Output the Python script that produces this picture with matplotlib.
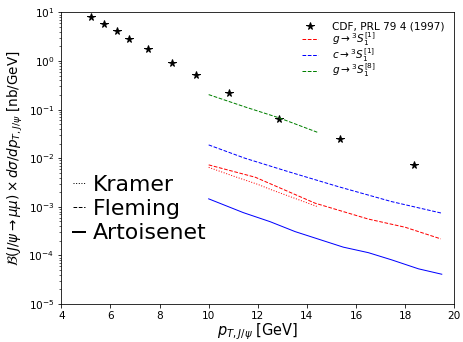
import matplotlib
matplotlib.use("Agg")
import matplotlib.pyplot as plt
from matplotlib.lines import Line2D

# CDF prompt J/psi data
cdf_pt = [5.21, 5.75, 6.27, 6.76, 7.54, 8.52, 9.47, 10.84, 12.86, 15.35, 18.37]
cdf_xs = [7.9, 5.8, 4.2, 2.9, 1.75, 0.93, 0.51, 0.217, 0.065, 0.0253, 0.0074]

# Kramer: g -> 3S1[1]
kramer_pt = [10.0, 11.0, 12.0, 12.6, 13.5, 14.45]
kramer_g1 = [6.5e-3, 4.3e-3, 2.9e-3, 2.2e-3, 1.5e-3, 1.0e-3]

# Fleming: g -> 3S1[1], c -> 3S1[1], g -> 3S1[8]
fleming_g1_pt = [10.0, 11.9, 14.33, 16.5, 18.0, 19.45]
fleming_g1 = [7.3e-3, 4.06e-3, 1.19e-3, 5.6e-4, 3.8e-4, 2.19e-4]
fleming_c1_pt = [10.0, 11.48, 13.24, 15.28, 17.45, 19.49]
fleming_c1 = [1.88e-2, 1.0e-2, 5.3e-3, 2.6e-3, 1.28e-3, 7.4e-4]
fleming_g8_pt = [10.0, 11.5, 12.86, 14.42]
fleming_g8 = [0.204, 0.113, 0.068, 0.0343]

# Artoisenet: c -> 3S1[1]
art_pt = [10.0, 11.41, 12.5, 13.52, 15.48, 16.5, 17.45, 18.54, 19.49]
art_c1 = [1.46e-3, 7.6e-4, 4.95e-4, 3.09e-4, 1.48e-4, 1.14e-4, 8.1e-5, 5.3e-5, 4.1e-5]

fig = plt.figure(figsize=(463 / 72, 342 / 72), dpi=72)
ax = fig.add_axes([0.1324, 0.1111, 0.9812 - 0.1324, 0.9635 - 0.1111])

lw = 1.0
h_cdf, = ax.plot(cdf_pt, cdf_xs, ls="none", marker="*", color="k", markersize=7.5,
                 label="CDF, PRL 79 4 (1997)")
ax.plot(kramer_pt, kramer_g1, ls=":", color="red", lw=lw)
h_g1, = ax.plot(fleming_g1_pt, fleming_g1, ls="--", color="red", lw=lw,
                label=r"$g\rightarrow {}^3S_1^{[1]}$")
h_c1, = ax.plot(fleming_c1_pt, fleming_c1, ls="--", color="blue", lw=lw,
                label=r"$c\rightarrow {}^3S_1^{[1]}$")
h_g8, = ax.plot(fleming_g8_pt, fleming_g8, ls="--", color="green", lw=lw,
                label=r"$g\rightarrow {}^3S_1^{[8]}$")
ax.plot(art_pt, art_c1, ls="-", color="blue", lw=lw)

ax.set_yscale("log")
ax.set_xlim(4, 20)
ax.set_ylim(1e-5, 10)
ax.set_xticks([4, 6, 8, 10, 12, 14, 16, 18, 20])
ax.tick_params(labelsize=10.5)
ax.set_xlabel(r"$p_{T,J/\psi}$ [GeV]", fontsize=14.5, labelpad=0.5)
ax.set_ylabel(r"$\mathcal{B}(J/\psi\rightarrow\mu\mu)\times d\sigma/dp_{T,J/\psi}$ [nb/GeV]",
              fontsize=13.5, labelpad=3)

leg1 = ax.legend(handles=[h_cdf, h_g1, h_c1, h_g8], loc="upper right",
                 frameon=False, fontsize=10.5, handlelength=1.5,
                 handletextpad=1.35, borderaxespad=0.5, labelspacing=-0.2)
ax.add_artist(leg1)

style_handles = [
    Line2D([], [], color="k", ls=":", lw=lw),
    Line2D([], [], color="k", ls="--", lw=lw),
    Line2D([], [], color="k", ls="-", lw=2),
]
ax.legend(handles=style_handles, labels=["Kramer", "Fleming", "Artoisenet"],
          loc="center left", bbox_to_anchor=(12 / 393, 0.326), frameon=False,
          fontsize=22, handlelength=0.55, handletextpad=0.36, labelspacing=0.2,
          borderpad=0, borderaxespad=0)

fig.savefig("out.png", dpi=72)
